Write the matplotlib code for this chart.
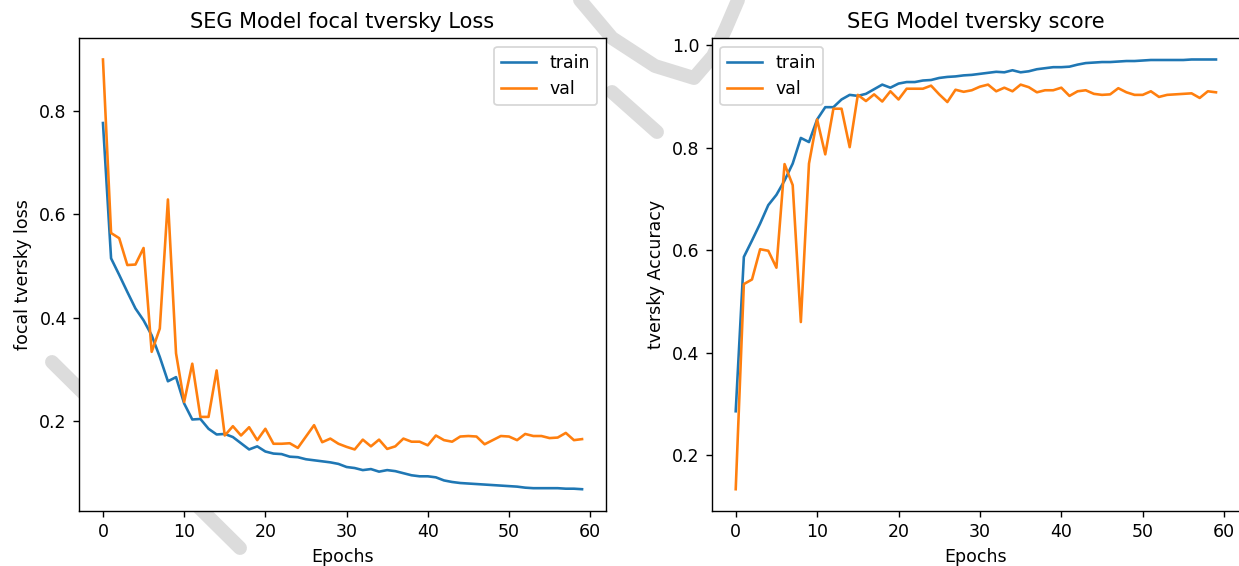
import numpy as np
import matplotlib
matplotlib.use("Agg")
import matplotlib.pyplot as plt

epochs = list(range(60))

loss_train = [0.777, 0.515, 0.483, 0.450, 0.418, 0.395, 0.366, 0.324, 0.277, 0.285,
              0.234, 0.203, 0.204, 0.185, 0.174, 0.175, 0.169, 0.157, 0.145, 0.151,
              0.141, 0.137, 0.136, 0.131, 0.130, 0.126, 0.124, 0.122, 0.120, 0.117,
              0.111, 0.109, 0.105, 0.107, 0.102, 0.105, 0.103, 0.099, 0.095, 0.093,
              0.093, 0.091, 0.085, 0.082, 0.080, 0.079, 0.078, 0.077, 0.076, 0.075,
              0.074, 0.073, 0.071, 0.070, 0.070, 0.070, 0.070, 0.069, 0.069, 0.068]
loss_val = [0.900, 0.564, 0.554, 0.502, 0.503, 0.535, 0.334, 0.379, 0.629, 0.331,
            0.237, 0.311, 0.208, 0.208, 0.298, 0.172, 0.190, 0.172, 0.188, 0.163,
            0.185, 0.156, 0.156, 0.157, 0.148, 0.170, 0.192, 0.159, 0.166, 0.156,
            0.150, 0.145, 0.164, 0.151, 0.164, 0.146, 0.151, 0.166, 0.160, 0.160,
            0.153, 0.172, 0.163, 0.160, 0.170, 0.171, 0.170, 0.155, 0.163, 0.171,
            0.170, 0.163, 0.175, 0.171, 0.171, 0.167, 0.168, 0.177, 0.163, 0.165]
score_train = [0.286, 0.587, 0.619, 0.652, 0.688, 0.708, 0.736, 0.769, 0.819, 0.811,
               0.855, 0.879, 0.879, 0.894, 0.903, 0.901, 0.905, 0.914, 0.923, 0.917,
               0.925, 0.928, 0.928, 0.931, 0.932, 0.936, 0.938, 0.939, 0.941, 0.942,
               0.944, 0.946, 0.948, 0.947, 0.951, 0.947, 0.949, 0.953, 0.955, 0.957,
               0.957, 0.958, 0.962, 0.965, 0.966, 0.967, 0.967, 0.968, 0.969, 0.969,
               0.970, 0.971, 0.971, 0.971, 0.971, 0.971, 0.972, 0.972, 0.972, 0.972]
score_val = [0.134, 0.534, 0.543, 0.602, 0.599, 0.566, 0.768, 0.727, 0.460, 0.769,
             0.855, 0.787, 0.876, 0.876, 0.801, 0.903, 0.891, 0.904, 0.890, 0.910,
             0.894, 0.915, 0.915, 0.915, 0.921, 0.904, 0.889, 0.913, 0.909, 0.912,
             0.919, 0.923, 0.910, 0.917, 0.910, 0.923, 0.918, 0.908, 0.912, 0.912,
             0.917, 0.901, 0.910, 0.912, 0.905, 0.903, 0.904, 0.916, 0.908, 0.903,
             0.903, 0.910, 0.899, 0.903, 0.904, 0.905, 0.906, 0.897, 0.910, 0.908]

W, H = 1239, 566
DPI = 125
fig = plt.figure(figsize=(W / DPI, H / DPI), dpi=DPI, facecolor="white")

# faint watermark strokes in a background axes (pixel coords, y from top)
bg = fig.add_axes([0, 0, 1, 1], zorder=0)
bg.set_xlim(0, W)
bg.set_ylim(H, 0)
bg.axis("off")
strokes = [
    [(52, 362), (146, 455), (240, 548)],
    [(580, 0), (612, 38), (655, 66), (694, 78), (713, 56), (726, 28), (738, 0)],
    [(612, 92), (657, 132)],
]
for s in strokes:
    bg.plot([p[0] for p in s], [p[1] for p in s], color="#dcdcdc", lw=8,
            solid_capstyle="round", solid_joinstyle="round")

ax1 = fig.add_axes([79 / W, 1 - 510.7 / H, (606 - 79) / W, (510.7 - 38) / H], zorder=1)
ax2 = fig.add_axes([711.7 / W, 1 - 510.7 / H, (1240 - 711.7) / W, (510.7 - 38) / H], zorder=1)
for ax in (ax1, ax2):
    ax.set_facecolor("white")
    ax.patch.set_alpha(1.0)
    ax.patch.set_visible(True)

ax1.plot(epochs, loss_train, label="train")
ax1.plot(epochs, loss_val, label="val")
ax1.set_title("SEG Model focal tversky Loss")
ax1.set_xlabel("Epochs")
ax1.set_ylabel("focal tversky loss")
ax1.legend(loc="upper right")

ax2.plot(epochs, score_train, label="train")
ax2.plot(epochs, score_val, label="val")
ax2.set_title("SEG Model tversky score")
ax2.set_xlabel("Epochs")
ax2.set_ylabel("tversky Accuracy")
ax2.legend(loc="upper left")

fig.savefig("out.png", dpi=DPI, facecolor="white")
